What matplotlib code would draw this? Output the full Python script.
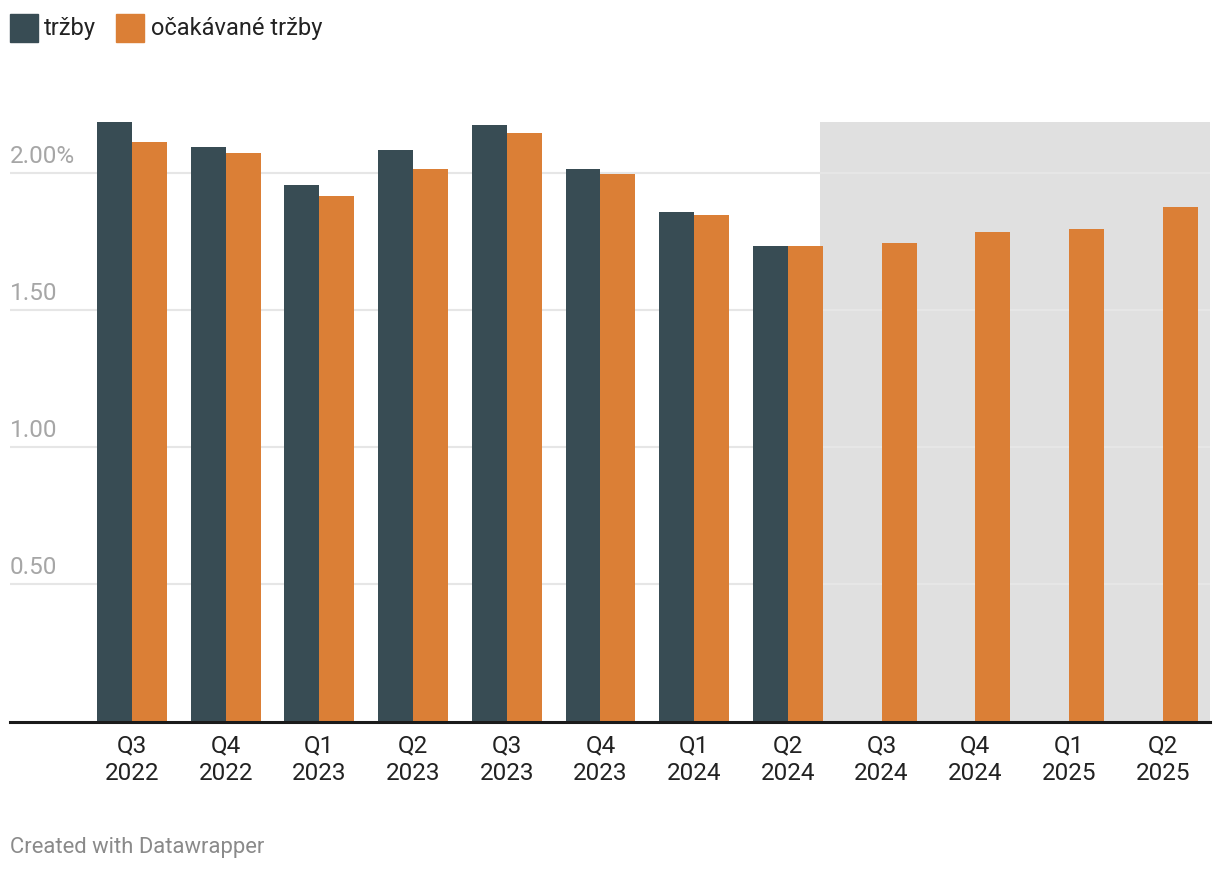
import matplotlib
matplotlib.use("Agg")
import matplotlib.pyplot as plt
from matplotlib.patches import Rectangle
import numpy as np

plt.rcParams['font.family'] = ['Roboto', 'DejaVu Sans']

categories = ["Q3\n2022", "Q4\n2022", "Q1\n2023", "Q2\n2023", "Q3\n2023", "Q4\n2023",
              "Q1\n2024", "Q2\n2024", "Q3\n2024", "Q4\n2024", "Q1\n2025", "Q2\n2025"]
trzby = [2.184, 2.093, 1.954, 2.082, 2.173, 2.013, 1.857, 1.734, None, None, None, None]
ocakavane = [2.111, 2.071, 1.914, 2.013, 2.144, 1.995, 1.846, 1.734, 1.745, 1.785, 1.796, 1.876]
ytick_vals = [0.5, 1.0, 1.5, 2.0]
ytick_labels = ["0.50", "1.00", "1.50", "2.00%"]
series_names = ["tržby", "očakávané tržby"]

DARK = "#384c54"
ORANGE = "#db7f36"
SHADE = "#e0e0e0"
GRID = "#e6e6e6"

W, H = 1220, 872
fig = plt.figure(figsize=(W / 100, H / 100), dpi=100)
ax = fig.add_axes([10 / W, (H - 721.7) / H, 1200 / W, (721.7 - 122) / H])

x = np.arange(len(categories))
bw = 0.373
ax.set_xlim(-1.302, 11.505)
ax.set_ylim(0, 2.184)

# forecast shade
ax.axvspan(7.343, 11.505, ymin=0, ymax=1, color=SHADE, zorder=0, lw=0)

# gridlines
for v in ytick_vals:
    ax.axhline(v, color=GRID, lw=1.5, zorder=1)

for i in x:
    if trzby[i] is not None:
        ax.bar(i - bw / 2, trzby[i], width=bw, color=DARK, zorder=2, lw=0)
    ax.bar(i + bw / 2, ocakavane[i], width=bw, color=ORANGE, zorder=2, lw=0)

ax.axhline(0, color="#1a1a1a", lw=2.2, zorder=3, clip_on=False)

for v, lab in zip(ytick_vals, ytick_labels):
    ax.annotate(lab, xy=(0, v), xycoords=("axes fraction", "data"),
                xytext=(0, 5), textcoords="offset pixels",
                ha="left", va="bottom", fontsize=17.5, color="#a6a6a6", zorder=4)

ax.set_xticks(x)
ax.set_xticklabels(categories, fontsize=17.5, color="#222222", linespacing=1.28)
ax.tick_params(axis="x", length=0, pad=9)
ax.set_yticks([])
for s in ax.spines.values():
    s.set_visible(False)

# legend
def fx(px):
    return px / W

def fy(py):
    return 1 - py / H

fig.patches.append(Rectangle((fx(10), fy(42)), 28 / W, 28 / H, color=DARK,
                             transform=fig.transFigure, figure=fig))
fig.text(fx(44), fy(28), series_names[0], fontsize=17, color="#222222", va="center", ha="left")
fig.patches.append(Rectangle((fx(116), fy(42)), 28 / W, 28 / H, color=ORANGE,
                             transform=fig.transFigure, figure=fig))
fig.text(fx(151), fy(28), series_names[1], fontsize=17, color="#222222", va="center", ha="left")

fig.text(fx(10), fy(847), "Created with Datawrapper", fontsize=15.8, color="#8a8a8a",
         va="center", ha="left")

fig.savefig("out.png", dpi=100)
